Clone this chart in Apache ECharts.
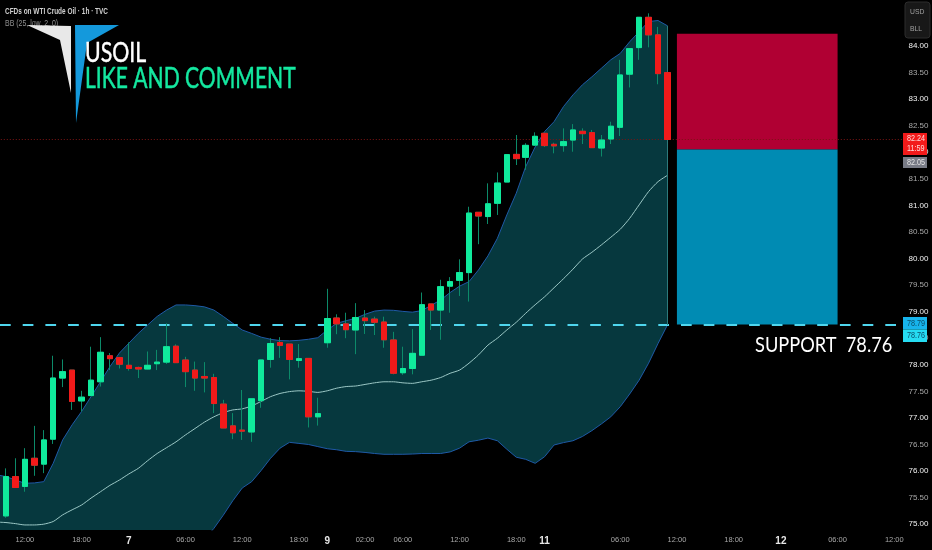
<!DOCTYPE html>
<html>
<head>
<meta charset="utf-8">
<style>html,body{margin:0;padding:0;background:#000}#c{width:932px;height:550px}</style>
<script src="https://cdn.jsdelivr.net/npm/echarts@6/dist/echarts.min.js"></script>
</head>
<body>
<div id="c"></div>
<script>
// First entry of each series is the partly hidden bar left of the picture edge.
const opens = [75.3,75.155,75.895,75.71,76.24,76.13,76.60,77.75,77.90,77.32,77.42,77.68,78.17,78.135,77.99,77.95,77.92,78.02,78.05,78.35,78.09,77.90,77.78,77.76,77.26,76.85,76.77,76.735,77.325,78.10,78.42,78.39,78.08,78.12,77.02,78.415,78.88,78.77,78.655,78.88,78.86,78.805,78.467,77.85,77.93,78.18,79.145,79.03,79.48,79.59,79.735,80.87,80.79,81.04,81.44,81.96,81.905,82.135,82.357,82.15,82.125,82.23,82.395,82.37,82.08,82.25,82.47,83.47,83.97,84.54,84.21,83.50];
const closes = [75.2,75.895,75.69,76.22,76.11,76.585,77.75,77.87,77.31,77.39,77.71,78.235,78.115,78.01,77.93,77.92,77.99,78.05,78.34,78.04,77.87,77.75,77.75,77.27,76.81,76.72,76.75,77.36,78.09,78.40,78.365,78.10,78.115,77.02,77.08,78.87,78.77,78.66,78.89,78.83,78.80,78.47,77.84,77.93,78.215,79.13,79.03,79.47,79.565,79.735,80.855,80.80,81.03,81.42,81.955,81.88,82.13,82.30,82.125,82.12,82.20,82.42,82.35,82.087,82.23,82.49,83.455,83.95,84.54,84.21,83.48,82.24];
const lows = [75.1,75.12,75.68,75.61,75.91,75.96,76.51,77.58,77.15,77.12,77.41,77.59,77.90,77.93,77.89,77.75,77.915,77.90,78.015,78.04,77.58,77.51,77.48,77.09,76.81,76.60,76.585,76.55,77.19,77.945,78.13,77.725,77.945,76.82,76.855,78.32,78.575,78.50,78.20,78.58,78.56,78.32,77.82,77.81,77.82,78.18,78.655,78.47,78.98,79.295,79.19,80.27,80.65,80.82,81.44,81.76,81.67,82.125,82.10,81.98,82.01,82.01,82.155,82.087,81.92,82.155,82.305,83.22,83.74,83.975,83.28,82.24];
const highs = [75.5,76.05,76.24,76.43,76.85,76.77,78.17,78.10,77.90,77.51,78.34,78.52,78.22,78.14,78.42,77.965,78.25,78.28,78.78,78.385,78.15,78.06,78.05,77.83,77.34,77.09,77.525,77.36,78.09,78.50,78.52,78.39,78.39,78.12,77.38,79.43,78.95,78.98,79.16,79.03,78.905,78.905,78.62,78.34,78.67,79.36,79.145,79.60,79.65,79.985,80.975,80.87,81.415,81.62,81.96,82.325,82.17,82.375,82.357,82.18,82.45,82.53,82.45,82.42,82.325,82.575,83.74,83.95,84.54,84.615,84.36,83.50];
const bandUpper = [75.93,75.895,75.83,75.77,75.776,75.80,76.146,76.585,76.87,77.12,77.40,77.68,77.965,78.22,78.405,78.59,78.75,78.91,79.03,79.126,79.126,79.113,79.09,79.03,78.91,78.78,78.655,78.59,78.52,78.48,78.455,78.45,78.46,78.48,78.51,78.655,78.78,78.83,78.875,78.95,79.01,79.03,79.025,79.005,78.99,79.02,79.12,79.22,79.36,79.48,79.565,79.785,80.05,80.38,80.82,81.23,81.73,82.10,82.39,82.576,82.86,83.08,83.27,83.42,83.58,83.74,83.86,84.08,84.27,84.46,84.48,84.38];
const bandBasis = [75.04,75.03,75.01,74.985,74.985,75.0,75.05,75.175,75.27,75.36,75.49,75.61,75.73,75.83,75.945,76.05,76.196,76.33,76.44,76.55,76.68,76.80,76.92,77.02,77.10,77.15,77.17,77.225,77.31,77.40,77.46,77.495,77.51,77.50,77.48,77.51,77.56,77.59,77.60,77.63,77.66,77.68,77.68,77.66,77.65,77.68,77.71,77.76,77.84,77.90,78.03,78.185,78.37,78.50,78.655,78.80,78.97,79.13,79.28,79.45,79.62,79.80,79.99,80.117,80.255,80.40,80.55,80.757,81.01,81.26,81.447,81.566];
const bandLower = [74.15,74.17,74.19,74.2,74.19,74.2,73.95,73.77,73.67,73.6,73.58,73.54,73.5,73.44,73.49,73.51,73.64,73.75,73.85,73.97,74.23,74.49,74.72,74.92,75.17,75.44,75.68,75.80,76.01,76.24,76.43,76.54,76.52,76.50,76.46,76.42,76.40,76.37,76.365,76.35,76.33,76.315,76.315,76.315,76.32,76.33,76.33,76.33,76.36,76.43,76.55,76.58,76.62,76.57,76.41,76.26,76.22,76.145,76.27,76.49,76.535,76.57,76.65,76.76,76.885,77.02,77.21,77.45,77.71,78.03,78.40,78.75];
const barCount = 97;
const timeTickIndex = [3,9,14,20,26,32,35,39,43,49,55,58,66,72,78,83,89,95];
const timeTickLabel = ['12:00','18:00','7','06:00','12:00','18:00','9','02:00','06:00','12:00','18:00','11','06:00','12:00','18:00','12','06:00','12:00'];
const priceTicks = [75,75.5,76,76.5,77,77.5,78,78.5,79,79.5,80,80.5,81,81.5,82,82.5,83,83.5,84];
const supportLevel = 78.76;
const lastPrice = 82.24;
const trade = {startIndex:72, endIndex:89, target:84.23, entry:82.05, stop:78.76};

const categories = new Array(barCount).fill('');
timeTickIndex.forEach((k,n)=>{categories[k]=timeTickLabel[n];});
const full = opens.map((o,k)=>[o,closes[k],lows[k],highs[k]]);
const bodies = opens.map((o,k)=>[o,closes[k],Math.min(o,closes[k]),Math.max(o,closes[k])]);
const lastBar = bandUpper.length-1;

const UP='#10ea9c', DOWN='#f21a1a', WICK='#0c8a69', FILL='#06383e', EDGE='#1f5aa6';
const AXFONT='"Liberation Sans",sans-serif';
const chart = echarts.init(document.getElementById('c'),null,{renderer:'canvas'});

const txt=(x,y,t,fs,fill,sx,extra)=>({type:'text',x,y,z:50,scaleX:sx||1,style:Object.assign({text:t,fontSize:fs,fill,fontFamily:AXFONT,verticalAlign:'middle'},extra||{})});
const box=(x,y,w,h,fill,extra)=>({type:'rect',z:49,shape:Object.assign({x,y,width:w,height:h},extra&&extra.shape||{}),style:Object.assign({fill},extra&&extra.style||{})});

chart.setOption({
  animation:false,
  backgroundColor:'#000',
  grid:{left:-8.2,top:0,width:916.65,height:530,containLabel:false,outerBoundsMode:'none'},
  xAxis:{type:'category',data:categories,boundaryGap:true,
    axisLine:{show:false},axisTick:{show:false},splitLine:{show:false},
    axisLabel:{interval:(k,v)=>v!=='',margin:6,hideOverlap:false,
      formatter:v=>v.indexOf(':')>=0?'{t|'+v+'}':'{d|'+v+'}',
      rich:{t:{fontSize:7.5,color:'#a8a8a8',fontFamily:AXFONT},d:{fontSize:10,fontWeight:'bold',color:'#e6e6e6',fontFamily:AXFONT}}}},
  yAxis:{type:'value',position:'right',min:74.89,max:84.866,scale:true,
    axisLine:{show:false},axisTick:{show:false},splitLine:{show:false},
    axisLabel:{customValues:priceTicks,margin:0,
      formatter:v=>(Number.isInteger(v)?'{w|':'{g|')+v.toFixed(2)+'}',
      rich:{w:{fontSize:8,color:'#f2f2f2',fontFamily:AXFONT},g:{fontSize:8,color:'#a8a8a8',fontFamily:AXFONT}}}},
  series:[
    {name:'Band fill',type:'custom',data:[0],z:1,silent:true,clip:true,
      renderItem:(p,api)=>{
        const pts=[];
        bandUpper.forEach((v,k)=>pts.push(api.coord([k,v])));
        for(let k=bandLower.length-1;k>=0;k--)pts.push(api.coord([k,bandLower[k]]));
        return {type:'polygon',shape:{points:pts},style:{fill:FILL}};
      }},
    {name:'Upper',type:'line',data:bandUpper,z:2,symbol:'none',silent:true,
      lineStyle:{color:EDGE,width:1}},
    {name:'Lower',type:'line',data:bandLower,z:2,symbol:'none',silent:true,
      lineStyle:{color:EDGE,width:1}},
    {name:'Basis',type:'line',data:bandBasis,z:3,symbol:'none',silent:true,smooth:0.2,
      lineStyle:{color:'#9cc8c6',width:1},
      markArea:{silent:true,z:1,data:[
        [{xAxis:trade.startIndex,yAxis:trade.target,itemStyle:{color:'#b00033',opacity:1}},{xAxis:trade.endIndex,yAxis:trade.entry}],
        [{xAxis:trade.startIndex,yAxis:trade.entry,itemStyle:{color:'#008bb3',opacity:1}},{xAxis:trade.endIndex,yAxis:trade.stop}]
      ]},
      markLine:{silent:true,symbol:'none',label:{show:false},z:5,animation:false,data:[
        {yAxis:supportLevel,lineStyle:{color:'#4fd6ee',type:[10.7,12],dashOffset:14.5,width:2}},
        {yAxis:lastPrice,lineStyle:{color:'#7a1414',type:[1,2],width:1}},
        [{coord:[lastBar,bandUpper[lastBar]],lineStyle:{color:'#2c7a7c',width:1,type:'solid'}},{coord:[lastBar,bandLower[lastBar]]}]
      ]}},
    {name:'Wicks',type:'candlestick',data:full,z:6,barWidth:6,silent:true,
      itemStyle:{color:WICK,color0:WICK,borderColor:WICK,borderColor0:WICK,borderWidth:1}},
    {name:'Bodies',type:'candlestick',data:bodies,z:7,barWidth:6,silent:true,
      itemStyle:{color:UP,color0:DOWN,borderColor:UP,borderColor0:DOWN,borderWidth:1}}
  ],
  graphic:[
    txt(5,12,'CFDs on WTI Crude Oil · 1h · TVC',8.5,'#d0d0d0',0.76,{fontWeight:'bold'}),
    txt(5,24,'BB (25, low, 2, 0)',8.5,'#909090',0.82),
    {type:'polygon',z:51,shape:{points:[[27,25],[71,26],[71,93],[60,40]]},style:{fill:'#e8e8e8'}},
    {type:'polygon',z:51,shape:{points:[[75,25],[119,25],[87,43],[76,123]]},style:{fill:'#1499dc'}},
    {type:'text',z:52,x:85,y:54,scaleX:0.82,style:{text:'USOIL',fontSize:26,fill:'#fff',fontFamily:'Lato',verticalAlign:'middle',stroke:'#fff',lineWidth:0.4}},
    {type:'text',z:52,x:85,y:79,scaleX:0.753,style:{text:'LIKE AND COMMENT',fontSize:28,fill:'#14e8a0',fontFamily:'Lato',verticalAlign:'middle',stroke:'#14e8a0',lineWidth:0.5}},
    {type:'text',z:52,x:755,y:345,scaleX:0.867,style:{text:'SUPPORT  78.76',fontSize:21,fill:'#fff',fontFamily:'Lato',verticalAlign:'middle'}},
    box(905,2,25,36,'#181818',{shape:{r:3},style:{stroke:'#2c2c2c',lineWidth:1}}),
    txt(910,12,'USD',8,'#a0a0a0',0.85),
    txt(910,29,'BLL',8,'#a0a0a0',0.85),
    box(903,133,24,22,'#f21a1a'),
    txt(907,139,'82.24',8.5,'#ffd9d9',0.85),
    txt(907,149,'11:59',8.5,'#ffd9d9',0.85),
    box(903,157,24,11,'#787b86'),
    txt(907,162.5,'82.05',8.5,'#e4e4e4',0.85),
    box(903,317,24,12.5,'#17b4ec'),
    txt(907,323.5,'78.79',8.5,'#0a4d6a',0.85),
    box(903,329.5,24,12.5,'#26dcf2'),
    txt(907,336,'78.76',8.5,'#0a4d6a',0.85)
  ]
});
</script>
</body>
</html>
